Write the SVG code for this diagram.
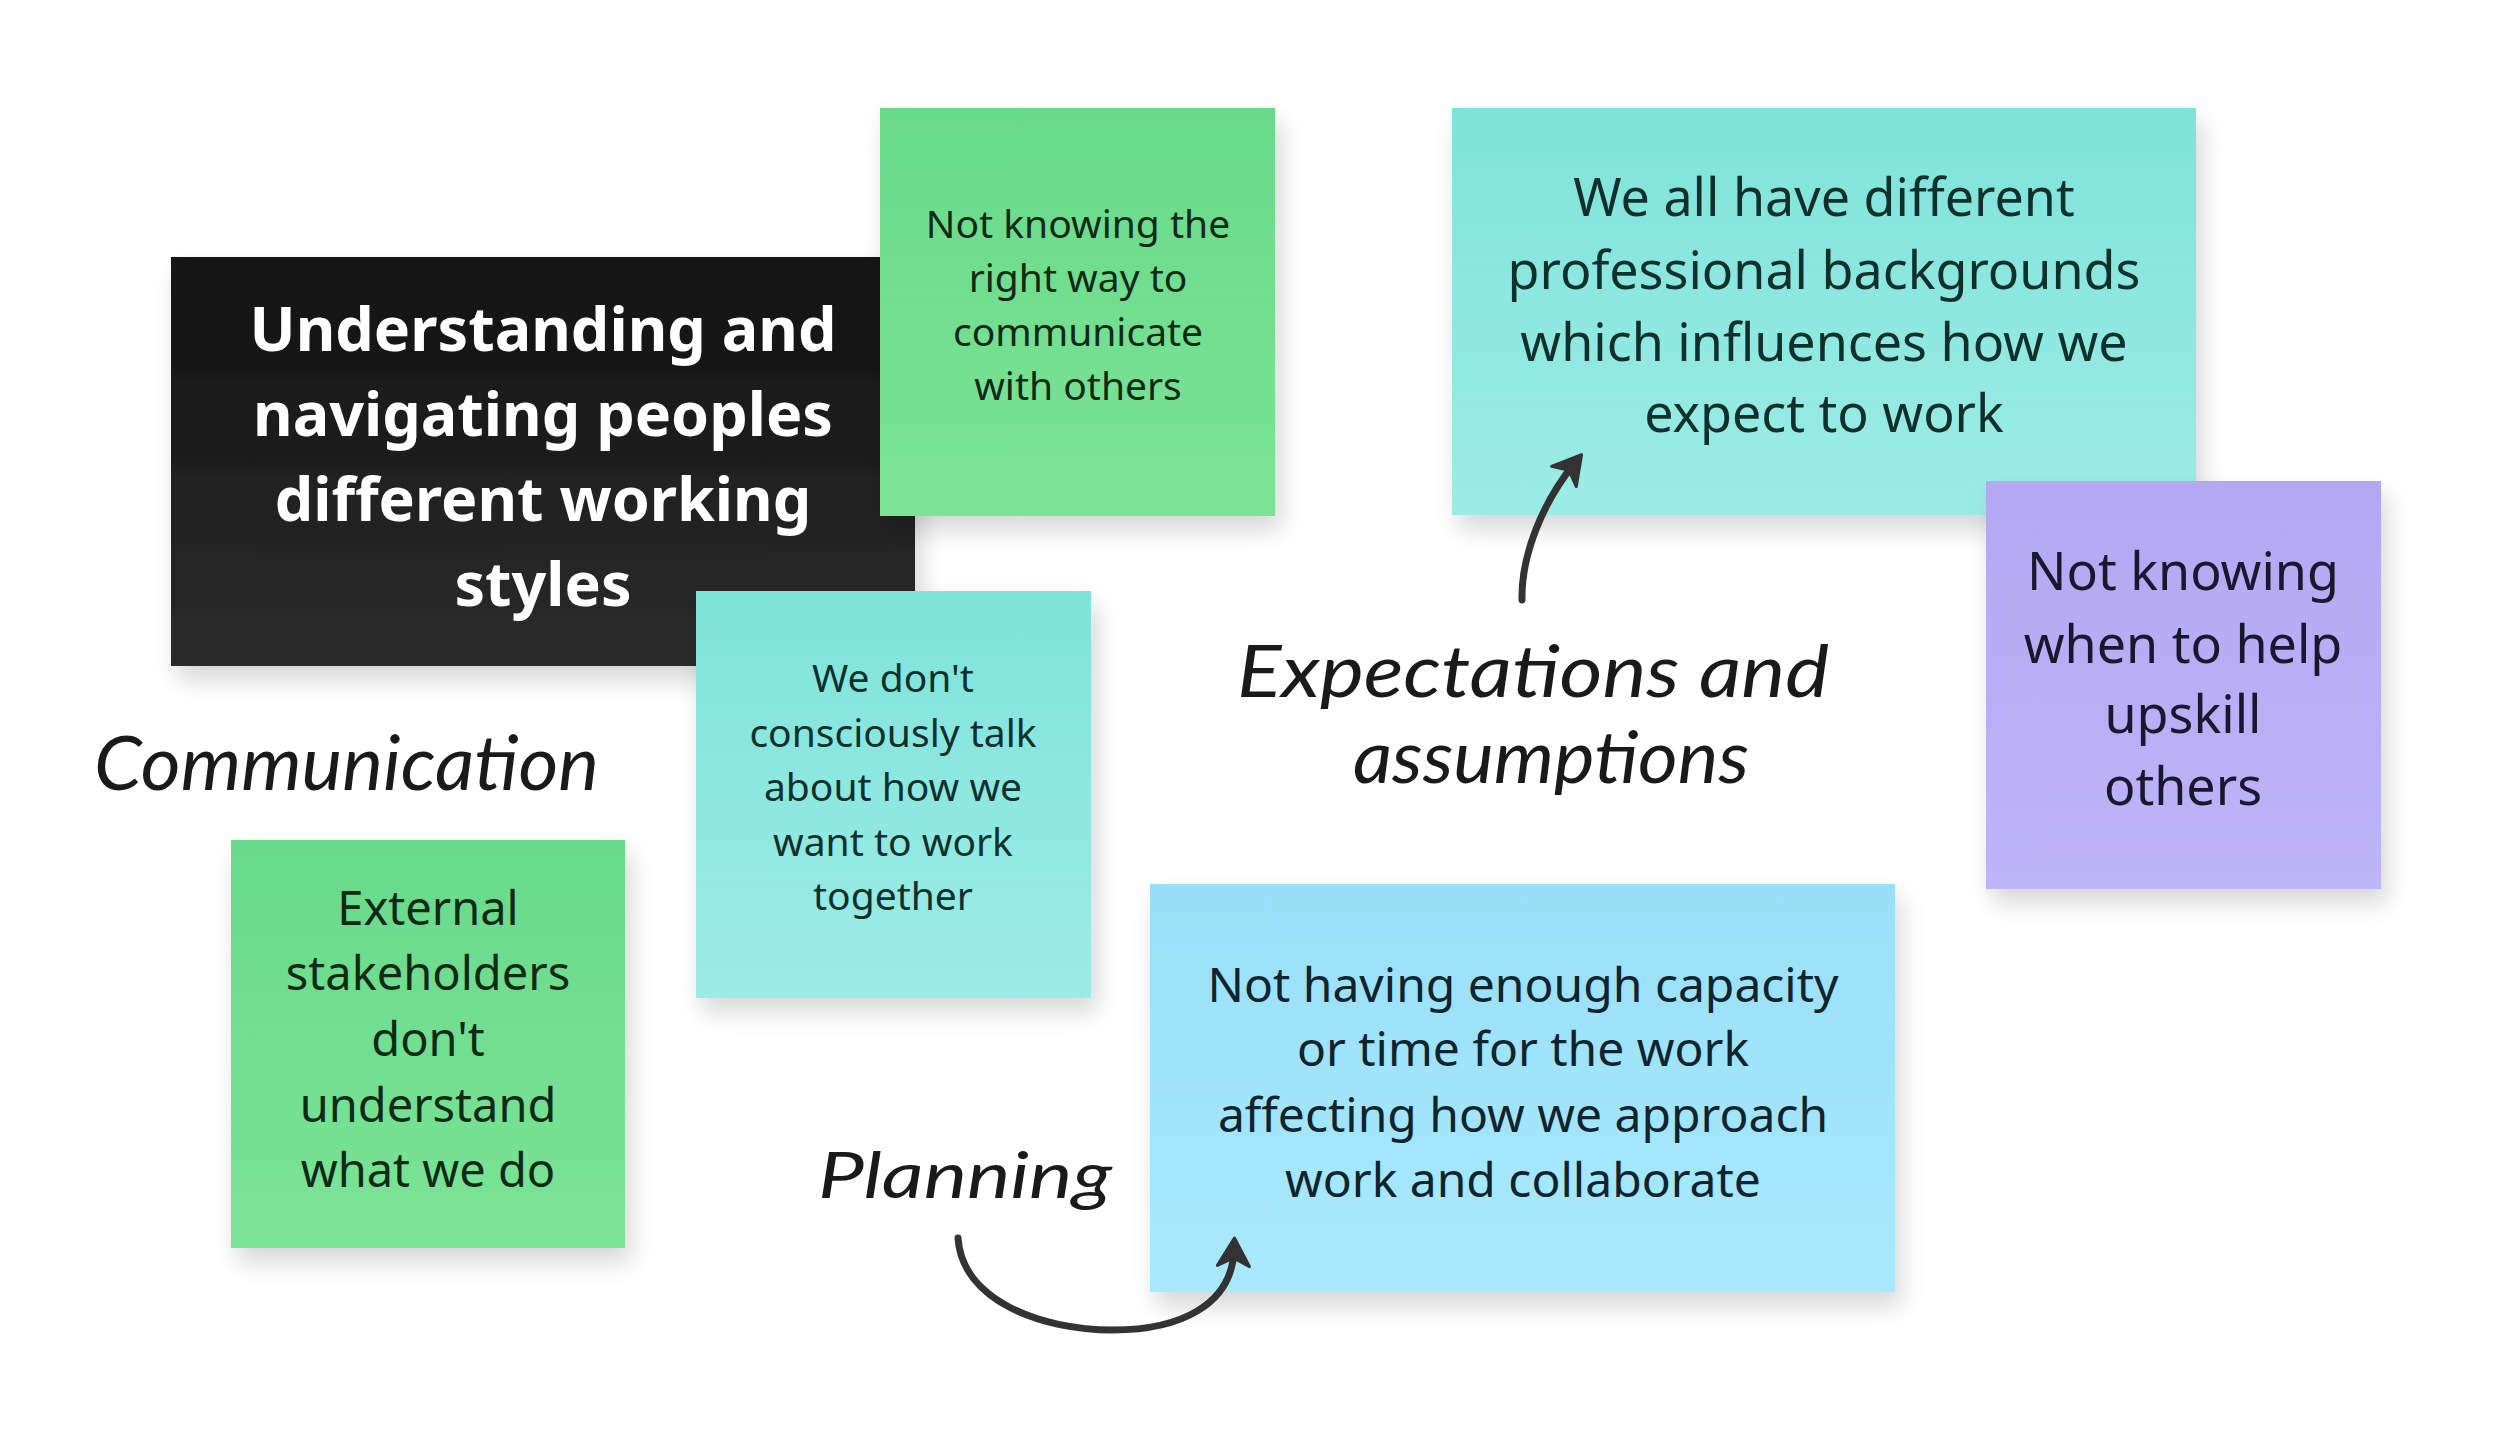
<svg xmlns="http://www.w3.org/2000/svg" width="2500" height="1446" viewBox="0 0 2500 1446">
  <defs>
    <linearGradient id="gBlack" x1="0" y1="0" x2="0" y2="1">
      <stop offset="0" stop-color="#121212"/>
      <stop offset="1" stop-color="#2c2c2c"/>
    </linearGradient>
    <linearGradient id="gGreen" x1="0" y1="0" x2="0" y2="1">
      <stop offset="0" stop-color="#69d98a"/>
      <stop offset="1" stop-color="#7be396"/>
    </linearGradient>
    <linearGradient id="gTeal" x1="0" y1="0" x2="0" y2="1">
      <stop offset="0" stop-color="#7ee3da"/>
      <stop offset="1" stop-color="#9cece6"/>
    </linearGradient>
    <linearGradient id="gPurple" x1="0" y1="0" x2="0" y2="1">
      <stop offset="0" stop-color="#b4a7f2"/>
      <stop offset="1" stop-color="#beb4f8"/>
    </linearGradient>
    <linearGradient id="gBlue" x1="0" y1="0" x2="0" y2="1">
      <stop offset="0" stop-color="#98dff7"/>
      <stop offset="1" stop-color="#a9e9fd"/>
    </linearGradient>
    <filter id="shadow" x="-10%" y="-10%" width="125%" height="130%">
      <feDropShadow dx="6" dy="14" stdDeviation="12" flood-color="#000" flood-opacity="0.16"/>
    </filter>
    <marker id="head" viewBox="-22 -18 36 36" refX="0" refY="0" markerWidth="36" markerHeight="36" markerUnits="userSpaceOnUse" orient="auto">
      <path d="M12,0 L-16,-16 L-8,0 L-16,16 Z" fill="#333333" stroke="#333333" stroke-width="3" stroke-linejoin="round"/>
    </marker>
    <style>
      .note { filter: url(#shadow); }
      .t { font-family: "Noto Sans", "Open Sans", sans-serif; text-anchor: middle; }
      .hand { font-family: Lato, "Noto Sans", sans-serif; font-style: italic; font-weight: 400; fill: #1a1a1a; }
      .conn { fill: none; stroke: #333333; stroke-width: 7; stroke-linecap: round; }
    </style>
  </defs>

  <rect x="0" y="0" width="2500" height="1446" fill="#ffffff"/>

  <g id="node-understanding">
    <rect class="note" x="171" y="257" width="744" height="409" fill="url(#gBlack)"/>
    <text class="t" font-size="61" font-weight="700" fill="#ffffff"><tspan x="543" y="351">Understanding and</tspan><tspan x="543" y="436">navigating peoples</tspan><tspan x="543" y="521">different working</tspan><tspan x="543" y="606">styles</tspan></text>
  </g>

  <g id="node-not-knowing-right-way">
    <rect class="note" x="880" y="108" width="395" height="408" fill="url(#gGreen)"/>
    <text class="t" font-size="39" fill="#102a16"><tspan x="1078" y="238">Not knowing the</tspan><tspan x="1078" y="292">right way to</tspan><tspan x="1078" y="346">communicate</tspan><tspan x="1078" y="400">with others</tspan></text>
  </g>

  <g id="node-we-dont-talk">
    <rect class="note" x="696" y="591" width="395" height="407" fill="url(#gTeal)"/>
    <text class="t" font-size="39" fill="#10302c"><tspan x="893" y="692">We don't</tspan><tspan x="893" y="747">consciously talk</tspan><tspan x="893" y="801">about how we</tspan><tspan x="893" y="856">want to work</tspan><tspan x="893" y="910">together</tspan></text>
  </g>

  <g id="node-external-stakeholders">
    <rect class="note" x="231" y="840" width="394" height="408" fill="url(#gGreen)"/>
    <text class="t" font-size="47" fill="#102a16"><tspan x="428" y="925">External</tspan><tspan x="428" y="990">stakeholders</tspan><tspan x="428" y="1056">don't</tspan><tspan x="428" y="1122">understand</tspan><tspan x="428" y="1187">what we do</tspan></text>
  </g>

  <g id="node-professional-backgrounds">
    <rect class="note" x="1452" y="108" width="744" height="407" fill="url(#gTeal)"/>
    <text class="t" font-size="52" fill="#10302c"><tspan x="1824" y="216">We all have different</tspan><tspan x="1824" y="289">professional backgrounds</tspan><tspan x="1824" y="361">which influences how we</tspan><tspan x="1824" y="432">expect to work</tspan></text>
  </g>

  <g id="node-upskill-others">
    <rect class="note" x="1986" y="481" width="395" height="408" fill="url(#gPurple)"/>
    <text class="t" font-size="52" fill="#1a1830"><tspan x="2183" y="590">Not knowing</tspan><tspan x="2183" y="663">when to help</tspan><tspan x="2183" y="733">upskill</tspan><tspan x="2183" y="805">others</tspan></text>
  </g>

  <g id="node-capacity">
    <rect class="note" x="1150" y="884" width="745" height="408" fill="url(#gBlue)"/>
    <text class="t" font-size="48" fill="#10242e"><tspan x="1523" y="1002">Not having enough capacity</tspan><tspan x="1523" y="1066">or time for the work</tspan><tspan x="1523" y="1132">affecting how we approach</tspan><tspan x="1523" y="1197">work and collaborate</tspan></text>
  </g>

  <g id="label-communication">
    <text class="hand" x="94" y="790" font-size="76" textLength="505" lengthAdjust="spacingAndGlyphs">Communication</text>
  </g>

  <g id="label-expectations">
    <text class="hand" font-size="72"><tspan x="1237" y="697" textLength="592" lengthAdjust="spacingAndGlyphs">Expectations and</tspan><tspan x="1353" y="783" textLength="396" lengthAdjust="spacingAndGlyphs">assumptions</tspan></text>
  </g>

  <g id="label-planning">
    <text class="hand" x="818" y="1198" font-size="64" textLength="294" lengthAdjust="spacingAndGlyphs">Planning</text>
  </g>

  <g id="connectors">
    <path class="conn" d="M1522,600 C1521,555 1543,502 1574,464" marker-end="url(#head)"/>
    <path class="conn" d="M958,1238 C962,1300 1040,1330 1113,1330 C1180,1330 1232,1305 1234,1250" marker-end="url(#head)"/>
  </g>
</svg>
